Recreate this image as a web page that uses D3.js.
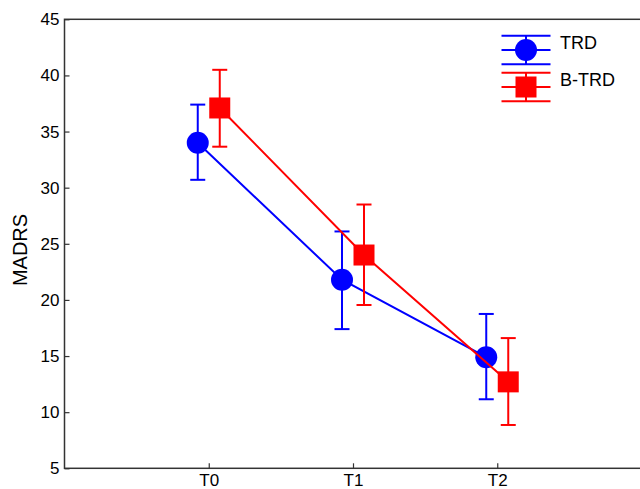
<!DOCTYPE html>
<html>
<head>
<meta charset="utf-8">
<script src="https://cdn.jsdelivr.net/npm/d3@7"></script>
<style>
  body { margin: 0; background: #fff; }
  svg { display: block; font-family: "Liberation Sans", Arial, sans-serif; }
</style>
</head>
<body>
<svg id="chart" width="640" height="489"></svg>
<script>
// Tidspunkt og verdier lest av figuren
var timepoints = ["T0", "T1", "T2"];
var yTicks = [5, 10, 15, 20, 25, 30, 35, 40, 45];

var trdMean = [34.0, 21.8, 14.9];
var trdLow  = [30.7, 17.4, 11.15];
var trdHigh = [37.4, 26.1, 18.75];

var btrdMean = [37.1, 24.0, 12.7];
var btrdLow  = [33.65, 19.55, 8.86];
var btrdHigh = [40.5, 28.5, 16.6];

var seriesNames = ["TRD", "B-TRD"];

var margin = { top: 19.3, left: 64.5, right: -1.5, bottom: 20.7 };
var width = 640 - margin.left - margin.right;
var height = 489 - margin.top - margin.bottom;

var svg = d3.select("#chart");
var g = svg.append("g").attr("transform", "translate(" + margin.left + "," + margin.top + ")");

var x = d3.scaleLinear().domain([0, 4]).range([0, width]);
var y = d3.scaleLinear().domain([5, 45]).range([height, 0]);

function build(mean, low, high) {
    return timepoints.map(function (t, i) {
        return { pos: i + 1, mean: mean[i], low: low[i], high: high[i] };
    });
}

var series = [
    { name: seriesNames[0], color: "#0000ff", shape: "circle", shift: -11, data: build(trdMean, trdLow, trdHigh) },
    { name: seriesNames[1], color: "#ff0000", shape: "square", shift: 11, data: build(btrdMean, btrdLow, btrdHigh) }
];

// Ramme
g.append("rect")
    .attr("width", width)
    .attr("height", height)
    .attr("fill", "none")
    .attr("stroke", "#333")
    .attr("stroke-width", 1.5);

// Akser
g.append("g")
    .attr("class", "y axis")
    .call(d3.axisLeft(y).tickValues(yTicks).tickSizeInner(-5).tickSizeOuter(0).tickPadding(5));

g.append("g")
    .attr("class", "x axis")
    .attr("transform", "translate(0," + height + ")")
    .call(d3.axisBottom(x).tickValues([1, 2, 3])
        .tickFormat(function (d) { return timepoints[d - 1]; })
        .tickSizeInner(-5).tickSizeOuter(0).tickPadding(6));

g.selectAll(".axis .domain").remove();
g.selectAll(".axis line").attr("stroke", "#333").attr("stroke-width", 1.2);
g.selectAll(".axis text").attr("fill", "#000").style("font-size", "17px")
    .style("font-family", "'Liberation Sans', Arial, sans-serif");

svg.append("text")
    .attr("transform", "translate(27,250) rotate(-90)")
    .attr("text-anchor", "middle")
    .style("font-size", "20px")
    .attr("fill", "#000")
    .text("MADRS");

function drawMarker(sel, s, cx, cy) {
    if (s.shape === "circle") {
        sel.append("circle").attr("cx", cx).attr("cy", cy).attr("r", 11).attr("fill", s.color);
    } else {
        sel.append("rect").attr("x", cx - 10.5).attr("y", cy - 10.5)
            .attr("width", 21).attr("height", 21).attr("fill", s.color);
    }
}

var line = function (s) {
    return d3.line()
        .x(function (d) { return x(d.pos) + s.shift; })
        .y(function (d) { return y(d.mean); });
};

series.forEach(function (s) {
    var sg = g.append("g");

    sg.append("path")
        .datum(s.data)
        .attr("fill", "none")
        .attr("stroke", s.color)
        .attr("stroke-width", 2)
        .attr("d", line(s));

    s.data.forEach(function (d) {
        var cx = x(d.pos) + s.shift;
        sg.append("line")
            .attr("x1", cx).attr("x2", cx)
            .attr("y1", y(d.low)).attr("y2", y(d.high))
            .attr("stroke", s.color).attr("stroke-width", 2);
        [d.low, d.high].forEach(function (v) {
            sg.append("line")
                .attr("x1", cx - 7.5).attr("x2", cx + 7.5)
                .attr("y1", y(v)).attr("y2", y(v))
                .attr("stroke", s.color).attr("stroke-width", 2);
        });
        drawMarker(sg, s, cx, y(d.mean));
    });
});

// Legende
var legend = svg.append("g").attr("transform", "translate(526,50)");
series.forEach(function (s, i) {
    var lg = legend.append("g").attr("transform", "translate(0," + (i * 37) + ")");
    [-14.3, 0, 14.3].forEach(function (dy) {
        lg.append("line")
            .attr("x1", -24.5).attr("x2", 24.5)
            .attr("y1", dy).attr("y2", dy)
            .attr("stroke", s.color).attr("stroke-width", 2);
    });
    lg.append("line")
        .attr("x1", 0).attr("x2", 0).attr("y1", -14.3).attr("y2", 14.3)
        .attr("stroke", s.color).attr("stroke-width", 2);
    drawMarker(lg, s, 0, 0);
    lg.append("text")
        .attr("x", 34)
        .attr("y", -1.5)
        .style("font-size", "18px")
        .attr("fill", "#000")
        .text(s.name);
});
</script>
</body>
</html>
